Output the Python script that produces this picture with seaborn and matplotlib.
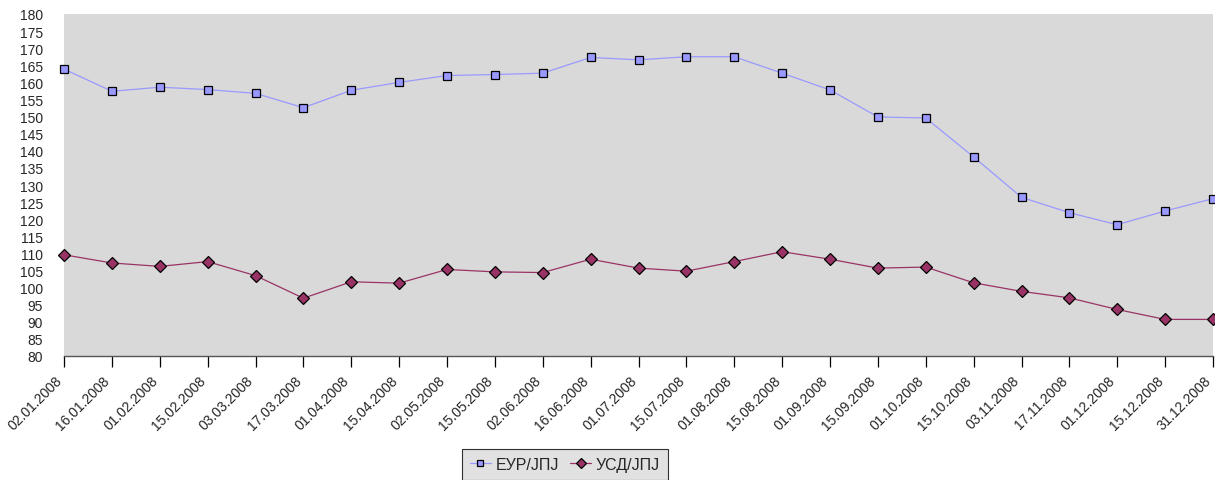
import pandas as pd
import matplotlib.pyplot as plt
import matplotlib.transforms as mtransforms
import seaborn as sns

# Dates on the x axis
dates = ['02.01.2008', '16.01.2008', '01.02.2008', '15.02.2008', '03.03.2008',
         '17.03.2008', '01.04.2008', '15.04.2008', '02.05.2008', '15.05.2008',
         '02.06.2008', '16.06.2008', '01.07.2008', '15.07.2008', '01.08.2008',
         '15.08.2008', '01.09.2008', '15.09.2008', '01.10.2008', '15.10.2008',
         '03.11.2008', '17.11.2008', '01.12.2008', '15.12.2008', '31.12.2008']

# Exchange rates
eur_jpy = [163.9, 157.4, 158.6, 157.9, 156.8, 152.6, 157.7, 160.0, 162.0, 162.3,
           162.7, 167.3, 166.6, 167.5, 167.5, 162.7, 157.8, 149.9, 149.6, 138.2,
           126.4, 121.9, 118.4, 122.4, 126.0]
usd_jpy = [109.6, 107.2, 106.2, 107.6, 103.5, 96.9, 101.7, 101.3, 105.3, 104.6,
           104.4, 108.3, 105.7, 104.8, 107.6, 110.5, 108.3, 105.7, 106.0, 101.4,
           98.9, 97.0, 93.6, 90.7, 90.7]

series_names = ['ЕУР/ЈПЈ', 'УСД/ЈПЈ']

df = pd.DataFrame({
    'pos': list(range(len(dates))) * 2,
    'value': eur_jpy + usd_jpy,
    'series': [series_names[0]] * len(dates) + [series_names[1]] * len(dates),
})

sns.set_style('white')
plt.rcParams['font.family'] = ['Liberation Sans', 'DejaVu Sans']

fig = plt.figure(figsize=(12.15, 4.81), dpi=100)
ax = fig.add_axes([64 / 1215, 124 / 481, 1149 / 1215, 342 / 481])
ax.set_facecolor('#D9D9D9')

sns.lineplot(data=df, x='pos', y='value', hue='series', style='series',
             palette={series_names[0]: '#9999FF', series_names[1]: '#993366'},
             markers={series_names[0]: 's', series_names[1]: 'D'},
             dashes=False, markeredgecolor='black', markeredgewidth=0.9,
             markersize=6, linewidth=0.9, clip_on=False, ax=ax)

ax.set_xlim(0, len(dates) - 1)
ax.set_ylim(80, 180)
ax.set_yticks(range(80, 181, 5))
ax.set_xticks(range(len(dates)))
ax.set_xticklabels(dates, rotation=45, ha='right', va='center',
                   rotation_mode='anchor', fontsize=10)
ax.tick_params(axis='y', labelsize=10, length=0, pad=15)
ax.tick_params(axis='x', length=8, width=0.9, color='black', direction='out', pad=8)
ax.xaxis.set_ticks_position('bottom')
shift = mtransforms.ScaledTranslation(-3 / 72, 0, fig.dpi_scale_trans)
for lbl in ax.get_xticklabels():
    lbl.set_transform(lbl.get_transform() + shift)
for s in ['top', 'right', 'left']:
    ax.spines[s].set_visible(False)
ax.spines['bottom'].set_color('#555555')
ax.spines['bottom'].set_linewidth(1)
ax.set_xlabel('')
ax.set_ylabel('')

leg = ax.legend(loc='upper center', bbox_to_anchor=(565 / 1215, 31 / 481),
                bbox_transform=fig.transFigure, borderaxespad=0, ncol=2,
                frameon=True, fancybox=False, fontsize=11.5, handlelength=1.3,
                handletextpad=0.3, columnspacing=0.7, borderpad=0.5)
leg.get_frame().set_edgecolor('black')
leg.get_frame().set_linewidth(0.8)
leg.get_frame().set_facecolor('#DADADA')
for h in leg.legend_handles:
    h.set_markersize(5)

fig.savefig('out.png', dpi=100)
